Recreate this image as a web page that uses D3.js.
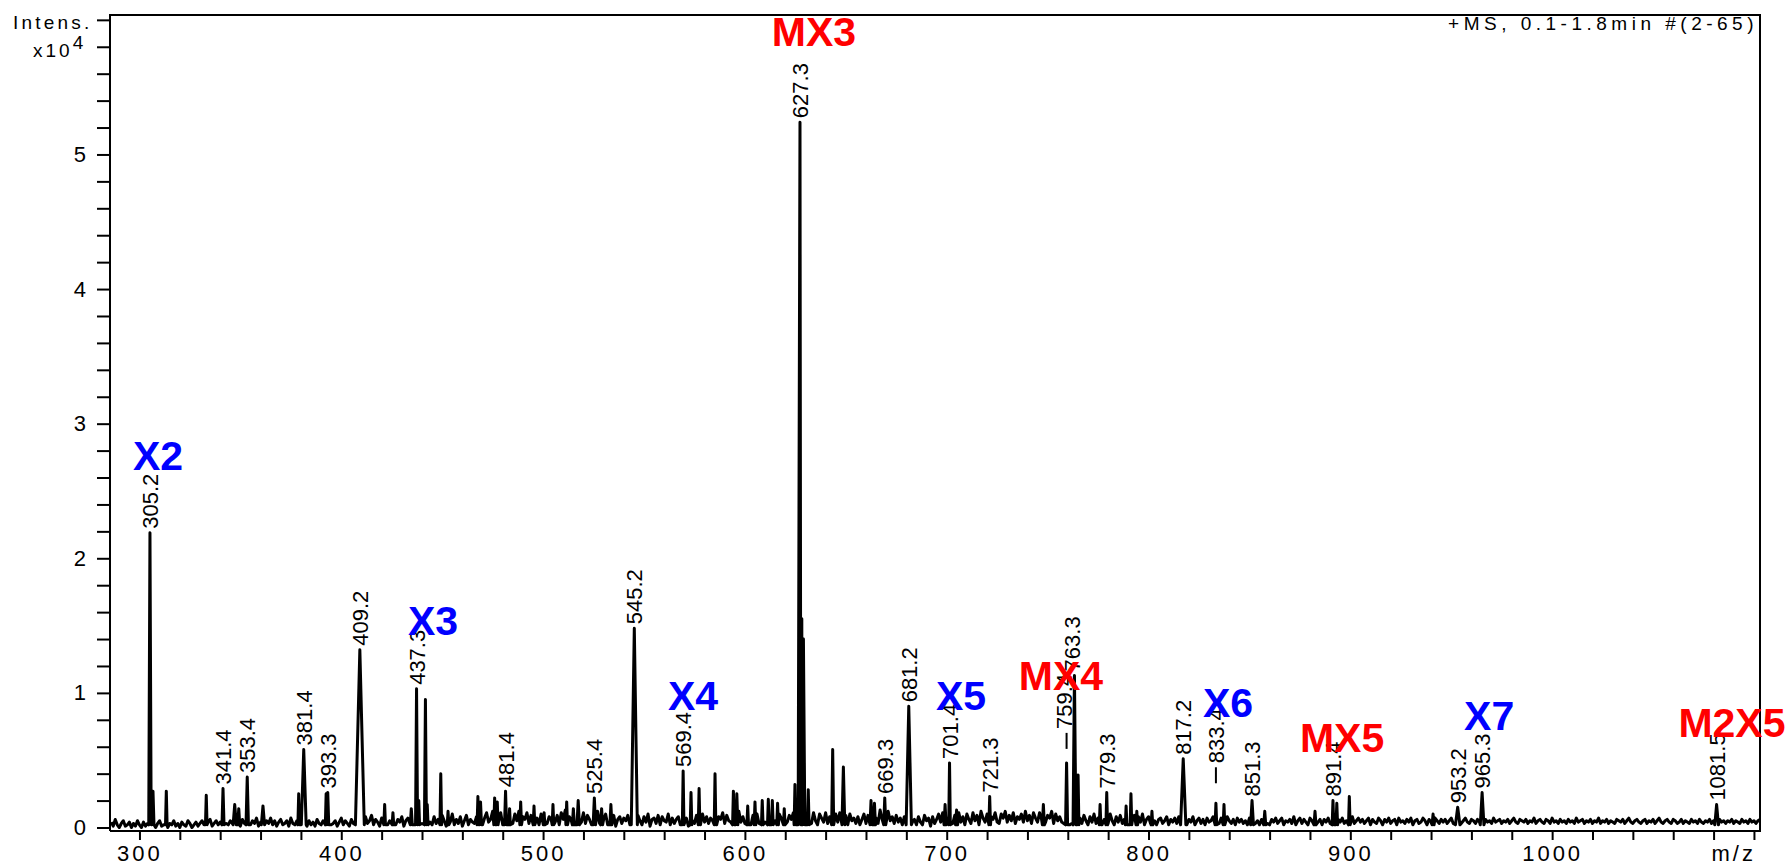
<!DOCTYPE html>
<html>
<head>
<meta charset="utf-8">
<script src="https://cdn.jsdelivr.net/npm/d3@7"></script>
<style>
  html, body { margin: 0; padding: 0; background: #fff; }
  svg { display: block; }
</style>
</head>
<body>
<svg id="chart"></svg>
<script>
// baseline trace: intensity in 0.01 x10^4 units, one value per m/z from noiseStart
const noiseStart = 286;
const noise = [
  4,1,6,2,0,3,5,1,2,4,0,3,1,5,2,0,4,1,3,2,
  1,4,0,3,5,1,2,4,0,3,2,5,1,3,0,4,2,1,5,3,
  0,2,4,1,3,5,2,0,4,6,1,3,5,2,4,1,6,3,2,5,
  3,7,2,5,1,6,3,4,8,2,5,3,7,1,4,6,2,5,3,7,
  2,5,1,4,6,2,3,5,1,7,3,2,5,0,4,3,6,1,5,2,
  4,1,6,3,2,5,0,4,6,2,3,5,1,4,7,2,5,3,1,6,
  3,6,2,7,4,1,8,3,5,9,2,6,4,1,7,3,8,2,5,4,
  9,2,6,4,8,1,5,7,3,9,2,6,4,8,3,5,1,7,4,2,
  8,3,6,2,9,5,1,7,4,10,2,6,3,8,1,5,9,2,6,4,
  3,8,5,10,2,7,11,4,6,12,3,9,5,11,2,8,13,4,7,3,
  10,5,12,2,8,6,11,3,9,4,13,7,2,10,5,11,3,8,6,12,
  4,9,2,11,6,13,3,8,5,12,2,10,7,4,11,3,9,6,2,10,
  5,12,3,8,6,10,2,7,4,9,1,6,8,3,7,5,9,2,6,1,
  3,9,5,2,8,4,10,1,6,7,3,9,2,8,5,4,10,2,7,3,
  6,8,2,10,4,7,1,11,5,3,9,6,2,10,4,8,3,7,5,9,
  2,8,6,11,3,9,5,4,10,2,7,12,4,8,3,11,6,2,9,5,
  10,3,12,6,4,11,2,8,13,5,3,10,7,2,12,4,9,6,11,3,
  2,5,1,3,2,6,9,3,11,5,2,10,7,4,11,3,8,6,2,10,
  4,11,6,3,9,2,10,5,7,3,8,2,6,10,3,9,5,12,4,7,
  3,13,6,9,2,12,5,8,3,9,4,7,2,8,5,3,9,4,6,2,
  8,4,2,9,5,7,1,8,3,6,10,4,11,2,7,12,5,3,9,6,
  11,4,8,2,10,6,3,11,5,9,2,12,7,4,10,3,8,6,11,4,
  3,10,7,12,4,9,5,11,3,8,6,10,4,12,5,9,3,11,7,4,
  11,6,13,4,9,7,12,3,10,5,8,4,3,2,4,2,3,5,2,4,
  7,3,9,5,2,8,4,10,3,7,11,2,6,9,3,10,5,2,8,4,
  9,3,6,11,2,7,5,9,3,8,4,10,2,6,8,3,7,5,2,6,
  7,3,5,8,2,6,4,7,3,8,5,2,3,2,6,4,8,2,5,7,
  3,6,2,7,4,5,8,2,6,3,7,4,2,8,5,3,6,2,7,4,
  6,3,5,2,7,4,8,3,5,2,6,4,7,3,2,6,4,7,3,5,
  7,2,5,4,6,3,8,2,5,7,3,6,4,2,7,5,3,8,4,6,
  2,6,4,7,3,5,8,2,6,4,7,3,5,2,6,8,3,5,7,4,
  6,3,5,7,2,6,4,3,7,5,2,6,4,7,3,5,6,2,7,4,
  5,3,6,4,7,2,5,6,3,4,7,5,2,6,4,3,7,5,3,6,
  4,6,3,5,7,3,5,4,6,3,5,7,4,3,6,5,3,6,4,5,
  3,6,4,5,3,7,4,5,6,3,5,4,6,3,5,7,4,3,6,5,
  4,6,3,5,4,7,3,5,6,4,3,6,5,3,7,4,5,3,6,4,
  5,3,6,4,5,3,7,4,5,6,3,5,4,6,3,5,4,7,3,5,
  4,6,3,5,4,3,6,5,4,6,3,5,7,4,3,5,6,4,3,5,
  6,3,5,4,6,3,5,7,4,3,5,6,4,3,6,5,3,4,6,3,
  5,4,3,6,4,5,3,6,4,3,5,4,6,3,5,4,3,6,4,5,
  3,5,4,6,3,5,4,3,6,4,5,3,6,4,5,3,5,6,8,10
];

// peaks: m/z, intensity (x10^4), half width (m/z)
const peakMz = [305.2, 306.7, 313.3, 333.1, 341.4, 347.2, 349.2, 353.4, 361.2, 378.9, 381.4, 392.5, 393.3,
  409.2, 421.5, 425.6, 434.7, 437.3, 438.4, 441.7, 442.6, 449.3, 452.9, 467.7, 469.0, 476.0, 477.3, 481.4,
  483.4, 488.9, 495.5, 500.5, 504.9, 511.7, 515.0, 517.4, 525.4, 529.0, 533.6, 545.2, 569.4, 573.3, 577.3,
  585.2, 594.3, 596.0, 601.4, 605.0, 608.6, 611.6, 613.6, 616.2, 619.5, 624.8, 627.3, 628.2, 629.0, 631.4,
  643.5, 648.8, 662.5, 664.2, 669.3, 681.2, 699.2, 701.4, 704.9, 721.3, 747.9, 759.4, 763.3, 765.1, 776.0,
  779.3, 788.9, 791.3, 794.2, 801.7, 817.2, 833.4, 837.4, 851.3, 857.6, 882.5, 891.4, 893.3, 899.5, 941.0,
  953.2, 965.3, 1081.5];
const peakInt = [2.19, 0.27, 0.27, 0.24, 0.29, 0.17, 0.14, 0.375, 0.16, 0.25, 0.58, 0.25, 0.26,
  1.32, 0.17, 0.11, 0.14, 1.03, 0.2, 0.95, 0.17, 0.40, 0.12, 0.23, 0.19, 0.22, 0.19, 0.27,
  0.14, 0.19, 0.16, 0.11, 0.17, 0.19, 0.14, 0.20, 0.22, 0.14, 0.17, 1.48, 0.42, 0.26, 0.29,
  0.40, 0.27, 0.25, 0.16, 0.19, 0.20, 0.21, 0.20, 0.18, 0.14, 0.32, 5.24, 1.55, 1.40, 0.28,
  0.58, 0.45, 0.20, 0.18, 0.22, 0.90, 0.17, 0.48, 0.13, 0.23, 0.17, 0.48, 1.13, 0.39, 0.17,
  0.26, 0.16, 0.25, 0.12, 0.12, 0.51, 0.18, 0.17, 0.20, 0.12, 0.12, 0.20, 0.18, 0.23, 0.10,
  0.15, 0.26, 0.17];
const peakHalfWidth = [0.6, 0.5, 0.4, 0.4, 0.5, 0.8, 0.5, 0.6, 0.8, 0.4, 1.2, 0.4, 0.5,
  2.2, 0.4, 0.4, 0.5, 0.5, 0.4, 0.5, 0.4, 0.4, 0.4, 0.4, 0.5, 0.4, 0.4, 0.5,
  0.4, 0.4, 0.4, 0.4, 0.4, 0.4, 0.5, 0.6, 0.6, 0.5, 0.5, 1.5, 0.4, 0.4, 0.4,
  0.4, 0.4, 0.5, 0.4, 0.4, 0.4, 0.4, 0.4, 0.4, 0.4, 0.4, 0.9, 0.5, 0.7, 0.4,
  0.5, 0.7, 0.5, 0.5, 0.5, 1.3, 0.5, 0.4, 0.5, 0.4, 0.5, 0.5, 0.7, 0.4, 0.4,
  0.4, 0.4, 0.4, 0.4, 0.4, 1.3, 0.4, 0.4, 0.7, 0.5, 0.5, 0.4, 0.4, 0.4, 0.5,
  1.1, 0.9, 0.9];

// peaks that carry an m/z label
const labelMz = [305.2, 341.4, 353.4, 381.4, 393.3, 409.2, 437.3, 481.4, 525.4, 545.2, 569.4, 627.3,
  669.3, 681.2, 701.4, 721.3, 759.4, 763.3, 779.3, 817.2, 833.4, 851.3, 891.4, 953.2, 965.3, 1081.5];

// species annotations
const annoText = ['X2', 'X3', 'MX3', 'X4', 'X5', 'MX4', 'X6', 'MX5', 'X7', 'M2X5'];
const annoMz = [309.2, 445.5, 634.2, 574.3, 707.1, 756.6, 839.4, 895.9, 968.8, 1089.1];
const annoInt = [2.656, 1.43, 5.806, 0.873, 0.873, 1.022, 0.821, 0.561, 0.724, 0.672];
const annoGroup = ['X', 'X', 'MX', 'X', 'X', 'MX', 'X', 'MX', 'X', 'MX'];

const xTicks = d3.range(300, 1101, 20);
const yTicks = d3.range(0, 31).map(i => i / 5);

const width = 1788, height = 867;
const font = '"Liberation Sans", Arial, sans-serif';

const svg = d3.select('#chart')
  .attr('width', width)
  .attr('height', height);

const x = d3.scaleLinear().domain([285.4, 1103.0]).range([110, 1760]);
const y = d3.scaleLinear().domain([-0.026, 6.036]).range([831, 15]);

svg.append('clipPath').attr('id', 'plot')
  .append('rect')
  .attr('x', 110).attr('y', 0)
  .attr('width', 1650).attr('height', 831);

// build trace points: peaks as narrow triangles on top of the baseline
const pts = [];
peakMz.forEach((m, i) => {
  const hw = peakHalfWidth[i];
  pts.push([m - hw, 0.02], [m, peakInt[i]], [m + hw, 0.02]);
});
noise.forEach((v, i) => {
  const m = noiseStart + i;
  const inside = peakMz.some((p, j) => m > p - peakHalfWidth[j] - 0.3 && m < p + peakHalfWidth[j] + 0.3);
  if (!inside) pts.push([m, v / 100]);
});
pts.sort((a, b) => a[0] - b[0]);

const line = d3.line()
  .x(d => x(d[0]))
  .y(d => y(d[1]));

svg.append('path')
  .datum(pts)
  .attr('clip-path', 'url(#plot)')
  .attr('fill', 'none')
  .attr('stroke', '#000')
  .attr('stroke-width', 3)
  .attr('stroke-linejoin', 'round')
  .attr('d', line);

// axes
const xAxis = d3.axisBottom(x)
  .tickValues(xTicks)
  .tickSize(9)
  .tickPadding(5)
  .tickFormat(d => (d % 100 === 0 && d !== 1100) ? d : '');
const gx = svg.append('g')
  .attr('transform', 'translate(0,831)')
  .call(xAxis);

const yAxis = d3.axisLeft(y)
  .tickValues(yTicks)
  .tickSize(13)
  .tickPadding(11)
  .tickFormat(d => Number.isInteger(d) && d <= 5 ? d : '');
const gy = svg.append('g')
  .attr('transform', 'translate(110,0)')
  .call(yAxis);

[gx, gy].forEach(g => {
  g.select('.domain').remove();
  g.selectAll('.tick line').attr('stroke', '#000').attr('stroke-width', 2);
  g.selectAll('.tick text')
    .attr('fill', '#000')
    .style('font-family', font)
    .style('font-size', '22px');
});
gx.selectAll('.tick text').style('letter-spacing', '3px');

// frame
svg.append('path')
  .attr('d', 'M110,831V15H1760V831H110')
  .attr('fill', 'none')
  .attr('stroke', '#000')
  .attr('stroke-width', 2);

svg.append('text')
  .attr('x', x(1100) + 2)
  .attr('y', 861)
  .attr('text-anchor', 'end')
  .style('font-family', font)
  .style('font-size', '22px')
  .style('letter-spacing', '3px')
  .text('m/z');

svg.append('text')
  .attr('x', 13)
  .attr('y', 29)
  .style('font-family', font)
  .style('font-size', '19px')
  .style('letter-spacing', '3.2px')
  .text('Intens.');

const xt = svg.append('text')
  .attr('x', 33)
  .attr('y', 57)
  .style('font-family', font)
  .style('font-size', '19px')
  .style('letter-spacing', '3px');
xt.append('tspan').text('x10');
xt.append('tspan').attr('dy', -8).text('4');

svg.append('text')
  .attr('x', 1758)
  .attr('y', 30)
  .attr('text-anchor', 'end')
  .style('font-family', font)
  .style('font-size', '19px')
  .style('letter-spacing', '4.5px')
  .text('+MS, 0.1-1.8min #(2-65)');

// m/z labels on peaks
const labelLift = {759.4: 30, 833.4: 36};
const labelShift = {759.4: -3, 763.3: -2};
labelMz.forEach(m => {
  const i = peakMz.indexOf(m);
  const lift = labelLift[m] || 0;
  const px = x(m) + (labelShift[m] || 0);
  const base = y(peakInt[i]) - 4 - lift;
  svg.append('text')
    .attr('transform', `translate(${px + 8},${base}) rotate(-90)`)
    .style('font-family', font)
    .style('font-size', '22px')
    .text(m.toFixed(1));
  if (lift) {
    svg.append('line')
      .attr('x1', x(m)).attr('x2', x(m))
      .attr('y1', base + 4).attr('y2', base + 20)
      .attr('stroke', '#000').attr('stroke-width', 2);
  }
});

// species annotations
svg.selectAll('.anno')
  .data(annoText)
  .enter()
  .append('text')
    .attr('class', 'anno')
    .attr('x', (d, i) => x(annoMz[i]))
    .attr('y', (d, i) => y(annoInt[i]))
    .attr('text-anchor', 'middle')
    .attr('fill', (d, i) => annoGroup[i] === 'X' ? '#0000ff' : '#ff0000')
    .style('font-family', font)
    .style('font-size', '41px')
    .style('font-weight', 'bold')
    .text(d => d);
</script>
</body>
</html>
